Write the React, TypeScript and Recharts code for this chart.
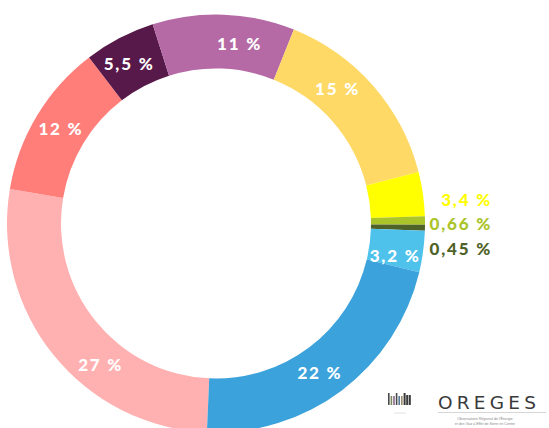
import React from 'react';
import { PieChart, Pie, Cell } from 'recharts';

// segments clockwise, starting near 6 o'clock
const categories = [
  'Résidentiel',
  'Tertiaire',
  'Agriculture',
  'Industrie',
  'Transport routier',
  'Transport ferroviaire',
  'Transport aérien',
  'Transport fluvial',
  'Déchets',
  'Production d\'énergie',
];
const shares = [27, 12, 5.5, 11, 15, 3.4, 0.66, 0.45, 3.2, 22];
const colors = [
  '#FFB1B1',
  '#FF7E7A',
  '#57184A',
  '#B56AA6',
  '#FFD966',
  '#FFFF00',
  '#AAC42A',
  '#4F6228',
  '#4FC2EC',
  '#3CA2DB',
];
const outsideLabels = ['Transport ferroviaire', 'Transport aérien', 'Transport fluvial'];

const data = categories.map((name, i) => ({ name, value: shares[i] }));

const RADIAN = Math.PI / 180;
const FONT = 'Lato, "Open Sans", sans-serif';
const labelStyle = { fontFamily: FONT, fontSize: 17, fontWeight: 900, letterSpacing: 1.8 };
// small angular nudges (degrees, counter-clockwise) for the inside labels, as in the source
const labelNudge = [11.7, -0.5, 1, -5.3, 6.9, 0, 0, 0, -2.5, -2.2];

const renderLabel = (props: any) => {
  const { cx, cy, midAngle, innerRadius, outerRadius, index, value } = props;
  const text = String(value).replace('.', ',') + ' %';
  const outIdx = outsideLabels.indexOf(categories[index]);
  if (outIdx >= 0) {
    return (
      <text
        x={cx + outerRadius + 67}
        y={cy - 24.5 + outIdx * 24.5}
        fill={colors[index]}
        textAnchor='end'
        dominantBaseline='central'
        style={labelStyle}
      >
        {text}
      </text>
    );
  }
  const r = (innerRadius + outerRadius) / 2;
  const a = midAngle + labelNudge[index];
  const x = cx + r * Math.cos(-a * RADIAN);
  const y = cy + r * Math.sin(-a * RADIAN);
  return (
    <text
      x={x}
      y={y}
      fill='#ffffff'
      textAnchor='middle'
      dominantBaseline='central'
      style={labelStyle}
    >
      {text}
    </text>
  );
};

const logoBars = [
  { h: 12, w: 1.6, c: '#4a4a4a' },
  { h: 9, w: 1.6, c: '#7a8a5a' },
  { h: 9, w: 1.6, c: '#8a6a8a' },
  { h: 12, w: 1.6, c: '#4a4a4a' },
  { h: 9, w: 1.6, c: '#5a7a9a' },
  { h: 9, w: 1.6, c: '#9a8a6a' },
  { h: 12, w: 2, c: '#3a3a3a' },
  { h: 10, w: 2, c: '#3a3a3a' },
  { h: 10, w: 2, c: '#3a3a3a' },
];

const Logo = () => (
  <svg
    width={549}
    height={428}
    style={{ position: 'absolute', left: 0, top: 0, pointerEvents: 'none' }}
  >
    {logoBars.map((b, i) => (
      <rect key={i} x={388 + i * 2.6} y={405 - b.h} width={b.w} height={b.h} fill={b.c} />
    ))}
    <line x1={394} y1={413} x2={406} y2={413} stroke='#ccc' strokeWidth={0.6} />
    <text
      x={438}
      y={408.5}
      fill='#3a3a3a'
      style={{ fontFamily: '"DejaVu Sans", sans-serif', fontSize: 18.5, letterSpacing: 4.2 }}
    >
      OREGES
    </text>
    <line x1={438} y1={412.5} x2={546} y2={412.5} stroke='#bbb' strokeWidth={0.6} />
    <text x={485} y={420} fill='#888' textAnchor='middle' style={{ fontFamily: 'sans-serif', fontSize: 3.6 }}>
      Observatoire Régional de l'Énergie
    </text>
    <text x={485} y={425} fill='#888' textAnchor='middle' style={{ fontFamily: 'sans-serif', fontSize: 3.6 }}>
      et des Gaz à Effet de Serre en Centre
    </text>
  </svg>
);

export default function App() {
  return (
    <div
      style={{
        position: 'absolute',
        left: 0,
        top: 0,
        width: 549,
        height: 428,
        overflow: 'hidden',
        background: '#fff',
      }}
    >
      <PieChart width={549} height={428} margin={{ top: 0, right: 0, bottom: 0, left: 0 }}>
        <Pie
          data={data}
          dataKey='value'
          nameKey='name'
          cx={216}
          cy={223.5}
          innerRadius={155}
          outerRadius={209}
          startAngle={-92.5}
          endAngle={-452.5}
          stroke='none'
          label={renderLabel}
          labelLine={false}
          isAnimationActive={false}
        >
          {data.map((d, i) => (
            <Cell key={d.name} fill={colors[i]} />
          ))}
        </Pie>
      </PieChart>
      <Logo />
    </div>
  );
}
